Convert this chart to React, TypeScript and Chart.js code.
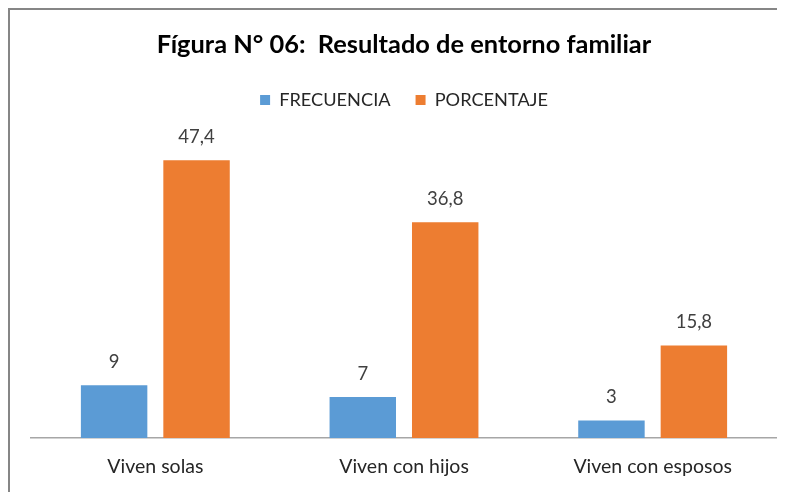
import React, { useEffect, useRef } from 'react';
import { Chart, registerables } from 'chart.js';

Chart.register(...registerables);

const categories = ['Viven solas', 'Viven con hijos', 'Viven con esposos'];
const seriesNames = ['FRECUENCIA', 'PORCENTAJE'];
const frecuencia = [9, 7, 3];
const porcentaje = [47.4, 36.8, 15.8];
const titleText = 'Fígura N° 06:  Resultado de entorno familiar';
const yMax = 50;

const FONT = 'Lato, "Open Sans", sans-serif';

const borderPlugin = {
  id: 'frameBorder',
  beforeDraw(chart: any) {
    const { ctx, width, height } = chart;
    ctx.save();
    ctx.fillStyle = '#ffffff';
    ctx.fillRect(0, 0, width, height);
    ctx.fillStyle = '#868686';
    ctx.fillRect(0, 0, width, 2);
    ctx.fillRect(0, 0, 2, height);
    ctx.restore();
  },
};

const legendGapPlugin = {
  id: 'legendGap',
  beforeInit(chart: any) {
    const legend = chart.legend;
    if (!legend) return;
    const orig = legend.fit;
    legend.fit = function () {
      orig.call(this);
      this.height += 25.9;
    };
  },
};

const dataLabelPlugin = {
  id: 'dataLabels',
  afterDatasetsDraw(chart: any) {
    const { ctx } = chart;
    ctx.save();
    ctx.font = `18.5px ${FONT}`;
    ctx.fillStyle = '#404040';
    ctx.textAlign = 'center';
    ctx.textBaseline = 'middle';
    chart.data.datasets.forEach((ds: any, i: number) => {
      const meta = chart.getDatasetMeta(i);
      meta.data.forEach((bar: any, j: number) => {
        const v = ds.data[j];
        const txt = String(v).replace('.', ',');
        ctx.fillText(txt, bar.x, bar.y - 23);
      });
    });
    ctx.restore();
  },
};

export default function App() {
  const ref = useRef<HTMLCanvasElement | null>(null);

  useEffect(() => {
    document.documentElement.style.overflow = 'hidden';
    document.body.style.overflow = 'hidden';
    if (!ref.current) return;
    const chart = new Chart(ref.current, {
      type: 'bar',
      data: {
        labels: categories,
        datasets: [
          {
            label: seriesNames[0],
            data: frecuencia,
            backgroundColor: '#5B9BD5',
            barPercentage: 0.806,
            categoryPercentage: 0.663,
          },
          {
            label: seriesNames[1],
            data: porcentaje,
            backgroundColor: '#ED7D31',
            barPercentage: 0.806,
            categoryPercentage: 0.663,
          },
        ],
      },
      options: {
        animation: false,
        responsive: false,
        maintainAspectRatio: false,
        layout: {
          padding: { left: 23, right: 8, top: 0, bottom: 2 },
        },
        plugins: {
          title: {
            display: true,
            text: titleText,
            color: '#000000',
            font: { family: FONT, size: 25.4, weight: 'bold' },
            padding: { top: 21.8, bottom: 5.6 },
          },
          legend: {
            display: true,
            position: 'top',
            labels: {
              boxWidth: 10,
              boxHeight: 10,
              padding: 25,
              color: '#262626',
              font: { family: FONT, size: 18.2 },
            },
          },
          tooltip: { enabled: false },
        },
        scales: {
          x: {
            grid: { display: false, drawTicks: false },
            border: { display: true, color: '#a6a6a6', width: 1.5 },
            ticks: {
              color: '#262626',
              font: { family: FONT, size: 19.5 },
              padding: 17.3,
            },
          },
          y: {
            display: false,
            min: 0,
            max: yMax,
          },
        },
      },
      plugins: [borderPlugin, legendGapPlugin, dataLabelPlugin],
    });
    return () => chart.destroy();
  }, []);

  return (
    <canvas
      ref={ref}
      width={777}
      height={490}
      style={{ display: 'block', width: 777, height: 490 }}
    />
  );
}
